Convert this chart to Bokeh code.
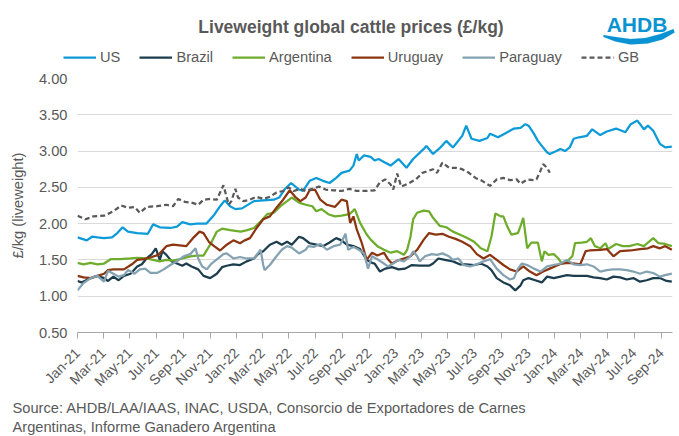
from math import pi
import pandas as pd
from bokeh.plotting import figure
from bokeh.layouts import column
from bokeh.models import (Range1d, FixedTicker, NumeralTickFormatter, DatetimeTickFormatter,
                          MonthsTicker, Legend, LegendItem, Label, PolyAnnotation)
from bokeh.embed import file_html
from bokeh.resources import INLINE

# ---------------- data (x = months since 1 Jan 2021, y = £/kg liveweight) ----------------
us_m = [0, 0.7, 1.1, 1.5, 2.0, 2.6, 3.0, 3.4, 3.8, 4.5, 5.3, 5.7, 6.2, 7.0, 7.5, 7.9, 8.5, 9.0, 9.7, 10.3,
        10.75, 11.1, 11.5, 11.9, 12.4, 13.3, 14.0, 14.8, 15.2, 15.6, 16.1, 16.7, 17.0, 17.5, 18.0, 18.5, 19.0,
        19.5, 19.9, 20.5, 20.8, 21.05, 21.2, 21.6, 22.1, 22.4, 22.7, 23.1, 23.6, 24.2, 24.8, 25.3, 26.1, 26.3,
        26.8, 27.3, 27.8, 28.3, 29.0, 29.3, 29.7, 30.3, 30.9, 31.1, 31.7, 32.4, 32.9, 33.4, 33.75, 34.0, 34.4,
        34.7, 35.4, 35.6, 36.1, 36.4, 36.75, 37.1, 37.4, 37.8, 38.4, 38.8, 39.4, 39.9, 40.6, 41.3, 41.7, 42.2,
        42.7, 43.0, 43.4, 43.9, 44.3, 44.8]
us_v = [1.81, 1.77, 1.82, 1.81, 1.80, 1.81, 1.87, 1.95, 1.89, 1.87, 1.86, 1.99, 1.95, 1.94, 1.96, 2.02, 1.99,
        2.00, 2.00, 2.12, 2.24, 2.32, 2.24, 2.20, 2.21, 2.31, 2.32, 2.33, 2.36, 2.47, 2.56, 2.47, 2.45, 2.59,
        2.63, 2.59, 2.56, 2.63, 2.70, 2.73, 2.80, 2.96, 2.87, 2.94, 2.92, 2.87, 2.89, 2.85, 2.80, 2.89, 2.77,
        2.89, 3.03, 3.07, 2.96, 3.04, 3.14, 3.05, 3.21, 3.35, 3.17, 3.14, 3.18, 3.24, 3.19, 3.26, 3.31, 3.32,
        3.37, 3.35, 3.24, 3.14, 2.98, 2.96, 3.00, 3.03, 3.00, 3.05, 3.17, 3.19, 3.21, 3.30, 3.22, 3.27, 3.31,
        3.26, 3.37, 3.42, 3.30, 3.35, 3.28, 3.10, 3.05, 3.06]

brazil_m = [0, 0.3, 1.0, 1.5, 2.0, 2.3, 2.7, 3.1, 3.5, 4.0, 4.5, 4.85, 5.2, 5.6, 5.9, 6.2, 6.4, 6.7, 7.1, 7.5,
            7.9, 8.2, 8.6, 9.1, 9.5, 10.0, 10.5, 10.9, 11.25, 11.75, 12.25, 12.75, 13.3, 13.6, 14.0, 14.5, 15.0,
            15.4, 15.8, 16.15, 16.7, 17.0, 17.5, 18.0, 18.5, 19.0, 19.5, 19.9, 20.3, 20.8, 21.3, 21.8, 22.2,
            22.4, 22.8, 23.2, 23.7, 24.2, 24.7, 25.2, 25.8, 26.5, 26.8, 27.2, 27.7, 28.3, 28.8, 29.3, 29.9, 30.4,
            30.9, 31.2, 31.6, 32.1, 32.6, 33.0, 33.4, 33.6, 34.0, 34.5, 35.0, 35.4, 35.9, 36.4, 36.9, 37.4, 37.9,
            38.4, 38.9, 39.4, 39.9, 40.4, 40.9, 41.4, 41.9, 42.4, 42.9, 43.4, 43.9, 44.4, 44.8]
brazil_v = [1.21, 1.19, 1.25, 1.28, 1.25, 1.21, 1.27, 1.22, 1.28, 1.31, 1.41, 1.44, 1.52, 1.58, 1.66, 1.50,
            1.62, 1.57, 1.48, 1.45, 1.42, 1.45, 1.41, 1.37, 1.28, 1.25, 1.31, 1.40, 1.42, 1.44, 1.43, 1.48, 1.52,
            1.58, 1.62, 1.71, 1.75, 1.71, 1.75, 1.71, 1.82, 1.80, 1.73, 1.71, 1.69, 1.74, 1.80, 1.77, 1.71, 1.69,
            1.65, 1.50, 1.46, 1.45, 1.34, 1.38, 1.40, 1.37, 1.38, 1.43, 1.42, 1.42, 1.45, 1.52, 1.50, 1.48, 1.44,
            1.44, 1.43, 1.45, 1.41, 1.36, 1.25, 1.19, 1.15, 1.08, 1.15, 1.22, 1.25, 1.22, 1.19, 1.27, 1.25, 1.27,
            1.29, 1.28, 1.28, 1.28, 1.26, 1.25, 1.23, 1.27, 1.26, 1.23, 1.25, 1.20, 1.22, 1.25, 1.25, 1.21, 1.20]

argentina_m = [0, 0.45, 1.0, 1.5, 2.0, 2.5, 3.2, 4.0, 4.5, 5.2, 5.7, 6.2, 6.7, 7.2, 7.7, 8.5, 9.0, 9.5, 10.0,
               10.5, 10.9, 11.5, 12.3, 12.8, 13.3, 13.8, 14.3, 14.8, 15.3, 15.8, 16.15, 16.7, 17.2, 17.7, 18.0,
               18.4, 18.9, 19.4, 19.9, 20.5, 20.9, 21.3, 21.8, 22.1, 22.6, 23.1, 23.6, 24.1, 24.6, 24.85, 25.1,
               25.3, 25.6, 26.1, 26.5, 26.8, 27.3, 27.8, 28.3, 28.8, 29.3, 29.9, 30.4, 30.9, 31.2, 31.5, 31.9,
               32.1, 32.4, 32.7, 33.2, 33.4, 33.6, 33.9, 34.2, 34.7, 35.0, 35.2, 35.5, 35.9, 36.25, 36.5, 36.9,
               37.3, 37.5, 38.0, 38.4, 38.7, 39.0, 39.4, 39.8, 40.0, 40.6, 41.1, 41.6, 42.2, 42.7, 43.0, 43.4,
               43.8, 44.3, 44.8]
argentina_v = [1.46, 1.44, 1.46, 1.44, 1.45, 1.51, 1.51, 1.52, 1.53, 1.52, 1.50, 1.48, 1.50, 1.49, 1.51, 1.55,
               1.56, 1.56, 1.71, 1.89, 1.93, 1.91, 1.89, 1.91, 1.94, 2.03, 2.13, 2.15, 2.24, 2.31, 2.36, 2.29,
               2.26, 2.24, 2.17, 2.20, 2.13, 2.10, 2.11, 2.13, 2.20, 2.01, 1.85, 1.78, 1.69, 1.64, 1.60, 1.62,
               1.57, 1.64, 1.82, 2.06, 2.15, 2.18, 2.17, 2.08, 1.97, 1.95, 1.89, 1.85, 1.81, 1.75, 1.66, 1.62,
               1.82, 2.14, 2.10, 2.10, 1.96, 1.85, 1.87, 1.97, 2.08, 1.66, 1.74, 1.74, 1.48, 1.62, 1.57, 1.58,
               1.52, 1.45, 1.48, 1.55, 1.73, 1.74, 1.75, 1.80, 1.69, 1.66, 1.73, 1.65, 1.72, 1.69, 1.69, 1.72,
               1.69, 1.74, 1.80, 1.73, 1.72, 1.69]

uruguay_m = [0, 0.45, 1.0, 1.5, 2.0, 2.3, 2.7, 3.5, 4.1, 4.5, 5.0, 5.6, 6.1, 6.7, 7.2, 7.7, 8.2, 8.7, 9.2, 9.5,
             9.9, 10.3, 10.75, 11.25, 11.75, 12.25, 12.6, 13.0, 13.5, 14.0, 14.5, 15.0, 15.5, 16.0, 16.4, 16.8,
             17.2, 17.5, 17.9, 18.3, 18.8, 19.4, 19.9, 20.3, 20.55, 20.8, 21.05, 21.4, 21.8, 22.2, 22.6, 23.1,
             23.4, 23.7, 24.1, 24.6, 25.1, 25.6, 26.1, 26.5, 27.0, 27.5, 28.0, 28.5, 29.0, 29.6, 30.1, 30.6,
             31.1, 31.6, 32.1, 32.6, 33.1, 33.6, 34.1, 34.6, 35.1, 35.6, 36.1, 36.5, 37.0, 37.5, 37.9, 38.3,
             38.6, 39.4, 39.9, 40.4, 40.9, 41.7, 42.4, 43.0, 43.4, 43.9, 44.3, 44.8]
uruguay_v = [1.28, 1.26, 1.25, 1.28, 1.31, 1.36, 1.37, 1.37, 1.44, 1.50, 1.51, 1.54, 1.57, 1.69, 1.71, 1.70,
             1.69, 1.80, 1.89, 1.87, 1.75, 1.69, 1.63, 1.71, 1.77, 1.73, 1.77, 1.80, 1.94, 2.06, 2.10, 2.22,
             2.33, 2.46, 2.37, 2.31, 2.36, 2.46, 2.47, 2.33, 2.26, 2.23, 2.33, 2.31, 2.01, 2.10, 1.92, 1.75,
             1.50, 1.60, 1.56, 1.60, 1.51, 1.45, 1.49, 1.52, 1.55, 1.64, 1.78, 1.87, 1.85, 1.86, 1.82, 1.79,
             1.75, 1.69, 1.58, 1.52, 1.57, 1.50, 1.43, 1.37, 1.34, 1.41, 1.34, 1.29, 1.34, 1.38, 1.42, 1.45,
             1.46, 1.45, 1.44, 1.62, 1.63, 1.64, 1.65, 1.55, 1.62, 1.63, 1.65, 1.66, 1.69, 1.66, 1.69, 1.64]

paraguay_m = [0, 0.45, 1.0, 1.5, 2.0, 2.3, 2.7, 3.1, 3.5, 3.8, 4.3, 4.7, 5.1, 5.5, 6.0, 6.5, 7.0, 7.5, 8.0, 8.5,
              8.9, 9.1, 9.4, 9.75, 10.1, 10.6, 11.0, 11.25, 11.75, 12.25, 12.75, 13.3, 13.8, 14.0, 14.1, 14.5,
              15.0, 15.4, 15.8, 16.15, 16.7, 17.2, 17.4, 17.8, 18.3, 18.8, 19.3, 19.8, 20.2, 20.4, 20.8, 21.2,
              21.6, 21.9, 22.2, 22.6, 23.1, 23.4, 23.8, 24.2, 24.6, 25.1, 25.3, 25.6, 25.8, 26.2, 26.7, 27.1,
              27.5, 28.0, 28.3, 28.7, 29.1, 29.6, 30.1, 30.6, 31.1, 31.6, 32.1, 32.6, 32.9, 33.2, 33.5, 33.9,
              34.4, 34.9, 35.4, 35.9, 36.4, 36.9, 37.4, 37.9, 38.4, 38.9, 39.4, 39.9, 40.4, 40.9, 41.4, 41.9,
              42.4, 42.9, 43.4, 43.9, 44.3, 44.8]
paraguay_v = [1.08, 1.18, 1.25, 1.28, 1.20, 1.35, 1.31, 1.27, 1.29, 1.36, 1.31, 1.37, 1.38, 1.32, 1.32, 1.37,
              1.43, 1.48, 1.55, 1.58, 1.66, 1.52, 1.41, 1.37, 1.45, 1.52, 1.58, 1.59, 1.52, 1.54, 1.52, 1.52,
              1.64, 1.43, 1.36, 1.43, 1.55, 1.64, 1.69, 1.67, 1.59, 1.64, 1.69, 1.68, 1.72, 1.64, 1.69, 1.71,
              1.86, 1.64, 1.68, 1.64, 1.59, 1.38, 1.55, 1.51, 1.45, 1.41, 1.45, 1.50, 1.48, 1.55, 1.62, 1.55,
              1.48, 1.55, 1.58, 1.57, 1.59, 1.55, 1.50, 1.52, 1.43, 1.41, 1.44, 1.48, 1.51, 1.38, 1.29, 1.23,
              1.25, 1.38, 1.45, 1.43, 1.38, 1.34, 1.41, 1.43, 1.45, 1.50, 1.44, 1.43, 1.44, 1.41, 1.34, 1.36,
              1.37, 1.37, 1.36, 1.34, 1.31, 1.34, 1.32, 1.27, 1.29, 1.31]

gb_m = [0, 0.6, 1.2, 2.0, 2.7, 3.3, 3.8, 4.3, 4.7, 5.2, 6.0, 6.7, 7.2, 7.6, 8.1, 8.6, 9.1, 9.5, 10.0, 10.5,
        10.8, 11.0, 11.4, 11.6, 11.9, 12.1, 12.5, 13.0, 13.5, 14.0, 14.5, 15.0, 15.5, 15.9, 16.3, 16.8, 17.2,
        17.7, 18.2, 18.7, 19.3, 19.9, 20.5, 21.05, 21.8, 22.4, 22.8, 23.2, 23.6, 23.8, 24.1, 24.4, 25.0, 25.5,
        26.0, 26.5, 26.8, 27.1, 27.5, 28.0, 28.5, 29.0, 29.5, 30.0, 30.5, 31.1, 31.6, 32.1, 32.6, 33.1, 33.4,
        33.9, 34.4, 34.6, 34.9, 35.1, 35.4, 35.6]
gb_v = [2.11, 2.06, 2.10, 2.11, 2.17, 2.25, 2.22, 2.23, 2.15, 2.23, 2.24, 2.26, 2.24, 2.34, 2.30, 2.29, 2.26,
        2.33, 2.34, 2.33, 2.45, 2.53, 2.26, 2.31, 2.48, 2.36, 2.31, 2.33, 2.37, 2.34, 2.37, 2.43, 2.45, 2.50,
        2.45, 2.48, 2.45, 2.48, 2.51, 2.47, 2.46, 2.45, 2.48, 2.45, 2.45, 2.46, 2.57, 2.61, 2.54, 2.47, 2.69,
        2.51, 2.56, 2.61, 2.70, 2.73, 2.75, 2.70, 2.84, 2.77, 2.77, 2.75, 2.70, 2.63, 2.59, 2.52, 2.61, 2.63,
        2.60, 2.61, 2.55, 2.61, 2.60, 2.61, 2.73, 2.82, 2.77, 2.70]

y_ticks = [0.5, 1.0, 1.5, 2.0, 2.5, 3.0, 3.5, 4.0]
x_end_month = 44.85

title_text = "Liveweight global cattle prices (£/kg)"
y_label = "£/kg (liveweight)"
source_lines = ["Source: AHDB/LAA/IAAS, INAC, USDA, Consorcio de Exportadores de Carnes",
                "Argentinas, Informe Ganadero Argentina"]

# ---------------- helpers ----------------
START = pd.Timestamp("2021-01-01")
DAYS_PER_MONTH = 30.4375


def to_dates(months):
    return [(START + pd.Timedelta(days=m * DAYS_PER_MONTH)).to_pydatetime() for m in months]


x_start = START.to_pydatetime()
x_stop = (START + pd.Timedelta(days=x_end_month * DAYS_PER_MONTH)).to_pydatetime()

FONT = "Liberation Sans"
GREY = "#595959"
W = 679
HEAD_H, MAIN_H, FOOT_H = 70, 330, 36   # 70 + 330 + 36 = 436


def blank(height, y_top):
    # a figure whose frame covers the whole canvas, data units == page pixels
    f = figure(width=W, height=height, output_backend="svg", toolbar_location=None,
               x_range=Range1d(0, W), y_range=Range1d(y_top + height, y_top),
               x_axis_location=None, y_axis_location=None, frame_align=False,
               min_border_left=0, min_border_right=0, min_border_top=0, min_border_bottom=0)
    f.grid.visible = False
    f.outline_line_color = None
    f.background_fill_color = "white"
    f.border_fill_color = "white"
    return f


series = [
    ("US", us_m, us_v, "#0c9bd8", None),
    ("Brazil", brazil_m, brazil_v, "#1c3d4d", None),
    ("Argentina", argentina_m, argentina_v, "#6eac2c", None),
    ("Uruguay", uruguay_m, uruguay_v, "#8b3511", None),
    ("Paraguay", paraguay_m, paraguay_v, "#84a2b1", None),
    ("GB", gb_m, gb_v, "#595959", "5 3"),
]

# ---------------- header: title, logo, legend ----------------
head = blank(HEAD_H, 0)
head.add_layout(Label(x=350.5, y=26, text=title_text, text_font=FONT, text_font_size="17.5px",
                      text_font_style="bold", text_color=GREY, text_align="center",
                      text_baseline="alphabetic"))
head.add_layout(Label(x=636.5, y=24, text="AHDB", text_font=FONT, text_font_size="21px",
                      text_font_style="bold", text_color="#0a93d2", text_align="center",
                      text_baseline="alphabetic"))
logo_wave_x = [603, 615, 630, 645, 660, 673, 674, 662, 647, 630, 615, 603]
logo_wave_y = [34.5, 36.5, 38.5, 37.5, 33.5, 28.5, 32, 39, 43, 44, 41, 36.5]
head.add_layout(PolyAnnotation(xs=logo_wave_x, ys=logo_wave_y, fill_color="#0a93d2", fill_alpha=1,
                               line_color="#0a93d2", line_width=0.5))

head_items = []
for name, ms, vs, col, dash in series:
    kw = dict(line_color=col, line_width=2.25)
    if dash:
        kw["line_dash"] = dash
    r = head.line(x=[float("nan")], y=[float("nan")], **kw)   # legend key only
    head_items.append(LegendItem(label=name, renderers=[r]))
legend = Legend(items=head_items, orientation="horizontal", location=(63, 5),
                glyph_width=33, glyph_height=16, label_standoff=4, spacing=19, padding=0, margin=0,
                label_height=16, label_text_font=FONT, label_text_font_size="14.67px",
                label_text_color=GREY, border_line_color=None, background_fill_alpha=0)
head.add_layout(legend)

# ---------------- main chart ----------------
p = figure(width=W, height=MAIN_H, x_axis_type="datetime", output_backend="svg", toolbar_location=None,
           x_range=Range1d(x_start, x_stop), y_range=Range1d(0.5, 4.0), frame_align=False,
           min_border_left=77, min_border_right=7, min_border_top=8, min_border_bottom=68)
p.outline_line_color = None
p.background_fill_color = "white"
p.border_fill_color = "white"

p.xgrid.visible = False
p.ygrid.ticker = FixedTicker(ticks=y_ticks)
p.ygrid.grid_line_color = "#d9d9d9"
p.ygrid.grid_line_width = 1

yax = p.yaxis[0]
yax.ticker = FixedTicker(ticks=y_ticks)
yax.formatter = NumeralTickFormatter(format="0.00")
yax.axis_line_color = None
yax.major_tick_line_color = None
yax.major_tick_out = 0
yax.major_tick_in = 0
yax.minor_tick_line_color = None
yax.minor_tick_out = 0
yax.major_label_standoff = 10
yax.major_label_text_font = FONT
yax.major_label_text_font_size = "14.67px"
yax.major_label_text_color = GREY
yax.axis_label = y_label
yax.axis_label_text_font = FONT
yax.axis_label_text_font_size = "14.67px"
yax.axis_label_text_font_style = "normal"
yax.axis_label_text_color = GREY
yax.axis_label_standoff = 10

xax = p.xaxis[0]
xax.ticker = MonthsTicker(months=[0, 2, 4, 6, 8, 10])
xax.formatter = DatetimeTickFormatter(months="%b-%y", days="%b-%y", years="%b-%y")
xax.major_label_orientation = pi / 4
xax.axis_line_color = "#a6a6a6"
xax.major_tick_line_color = "#a6a6a6"
xax.major_tick_out = 6
xax.major_tick_in = 0
xax.minor_tick_line_color = None
xax.major_label_standoff = 12
xax.major_label_text_font = FONT
xax.major_label_text_font_size = "14px"
xax.major_label_text_color = GREY

for name, ms, vs, col, dash in series:
    kw = dict(line_color=col, line_width=2.25)
    if dash:
        kw["line_dash"] = dash
    p.line(to_dates(ms), vs, **kw)

# ---------------- footer: source ----------------
foot = blank(FOOT_H, HEAD_H + MAIN_H)
foot.add_layout(Label(x=12, y=407, text=source_lines[0], text_font=FONT, text_font_size="14.67px",
                      text_color=GREY, text_align="left", text_baseline="alphabetic"))
foot.add_layout(Label(x=12, y=426, text=source_lines[1], text_font=FONT, text_font_size="14.67px",
                      text_color=GREY, text_align="left", text_baseline="alphabetic"))

layout = column(head, p, foot, spacing=0)
open("out.html", "w").write(file_html(layout, INLINE))
